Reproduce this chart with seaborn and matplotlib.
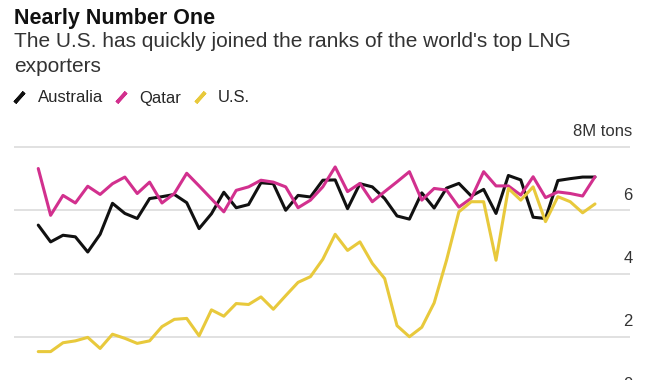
import numpy as np
import pandas as pd

import matplotlib.pyplot as plt
from matplotlib.lines import Line2D
import seaborn as sns

# monthly LNG exports, million tons
months = list(range(46))
australia = [5.53, 5.0, 5.21, 5.16, 4.68, 5.24, 6.22, 5.9, 5.74, 6.37,
             6.43, 6.5, 6.24, 5.42, 5.89, 6.57, 6.08, 6.18, 6.87, 6.84,
             6.0, 6.47, 6.42, 6.95, 6.96, 6.05, 6.84, 6.74, 6.37, 5.82,
             5.72, 6.55, 6.07, 6.7, 6.85, 6.45, 6.66, 5.9, 7.1, 6.96,
             5.78, 5.74, 6.94, 7.0, 7.05, 7.05]
qatar = [7.32, 5.84, 6.47, 6.23, 6.76, 6.5, 6.84, 7.05, 6.53, 6.89,
         6.23, 6.53, 7.17, 6.77, 6.36, 5.95, 6.63, 6.74, 6.95, 6.89,
         6.74, 6.08, 6.32, 6.74, 7.37, 6.59, 6.85, 6.27, 6.59, 6.9,
         7.22, 6.32, 6.69, 6.64, 6.1, 6.38, 7.22, 6.77, 6.77, 6.48,
         7.06, 6.4, 6.58, 6.53, 6.45, 7.06]
us = [1.53, 1.53, 1.81, 1.87, 1.98, 1.63, 2.08, 1.95, 1.79, 1.87,
      2.32, 2.55, 2.58, 2.03, 2.85, 2.65, 3.05, 3.02, 3.26, 2.87,
      3.3, 3.72, 3.9, 4.45, 5.24, 4.73, 5.0, 4.32, 3.84, 2.35,
      2.0, 2.3, 3.07, 4.42, 5.95, 6.27, 6.27, 4.42, 6.69, 6.32,
      6.74, 5.64, 6.43, 6.27, 5.92, 6.2]

countries = ['Australia', 'Qatar', 'U.S.']
colors = ['#111111', '#d2308e', '#e8c93c']
tick_values = [0, 2, 4, 6, 8]
tick_labels = ['0', '2', '4', '6', '8M tons']

df = pd.DataFrame({
  'month': months * 3,
  'exports': australia + qatar + us,
  'country': np.repeat(countries, len(months)),
})

sns.set_theme(style='white')
plt.rcParams['font.family'] = ['Liberation Sans', 'DejaVu Sans']

fig = plt.figure(figsize=(6.7, 3.8), dpi=100)
# axis runs below the bottom edge, like the cropped original
ax = fig.add_axes([0.0209, -0.0942, 0.9194, 0.7489])
ax.patch.set_alpha(0)

sns.lineplot(
  data=df, x='month', y='exports', hue='country', hue_order=countries,
  palette=colors, linewidth=2.2, legend=False, ax=ax,
)

ax.set_xlim(-1.96, 47.83)
ax.set_ylim(-0.5, 8.5)
ax.set_yticks(tick_values)
ax.set_xticks([])
ax.yaxis.grid(True, color='#dcdcdc', linewidth=1.2)
ax.tick_params(left=False, labelleft=False)
ax.set_xlabel('')
ax.set_ylabel('')
sns.despine(ax=ax, left=True, bottom=True)

for v, lab in zip(tick_values, tick_labels):
  ax.text(1.004, v + 0.34, lab, transform=ax.get_yaxis_transform(),
          ha='right', va='baseline', fontsize=12, color='#333333')

fig.text(0.021, 1 - 24 / 380, 'Nearly Number One', fontsize=15.5,
         fontweight='bold', va='baseline', color='#111111')
fig.text(0.021, 1 - 47 / 380,
         "The U.S. has quickly joined the ranks of the world's top LNG",
         fontsize=15, va='baseline', color='#333333')
fig.text(0.021, 1 - 72 / 380, 'exporters', fontsize=15, va='baseline',
         color='#333333')

handles = [
  Line2D([], [], linestyle='none', marker=(2, 2, -42), markersize=10,
         markeredgewidth=2.6, markeredgecolor=c)
  for c in colors
]
fig.legend(
  handles, countries, loc='center left', bbox_to_anchor=(0.0165, 1 - 98 / 380),
  ncol=3, frameon=False, fontsize=12, handlelength=1.0, handletextpad=0.6,
  columnspacing=0.6, borderaxespad=0, borderpad=0,
)

fig.savefig('out.png', dpi=100)
